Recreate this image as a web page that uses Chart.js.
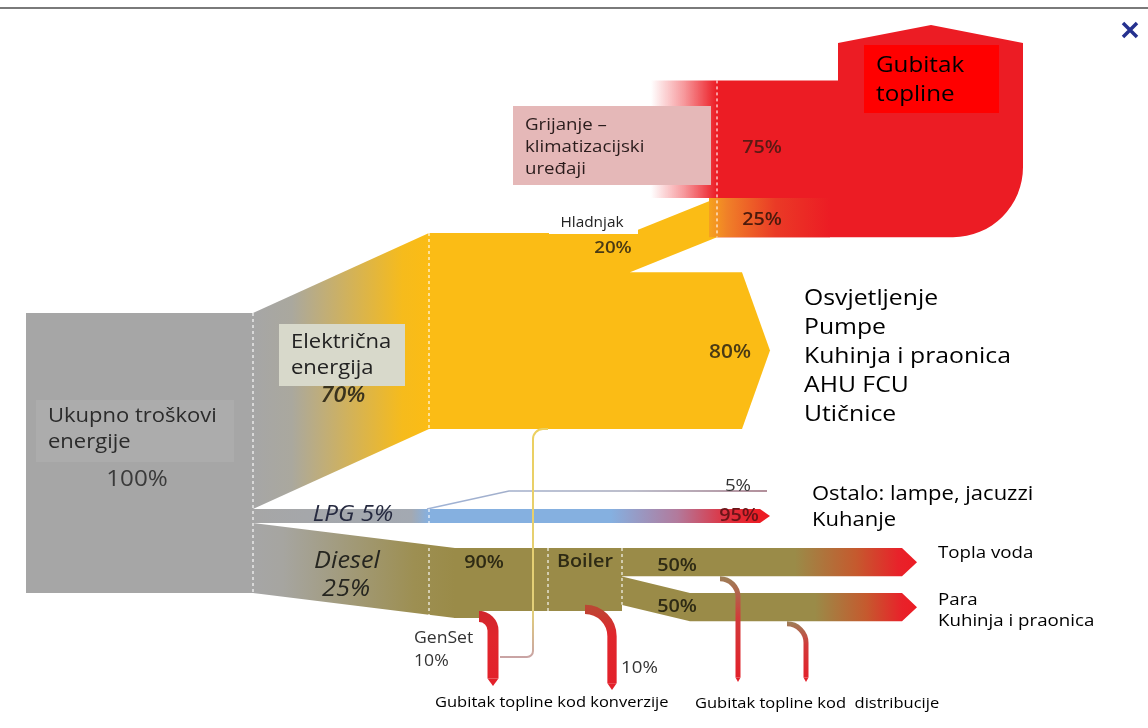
<!DOCTYPE html>
<html>
<head>
<meta charset="utf-8">
<title>Tok energije</title>
<script src="https://cdn.jsdelivr.net/npm/chart.js@4.4.1/dist/chart.umd.min.js"></script>
<style>
  html, body { margin: 0; padding: 0; background: #fff; }
  canvas { display: block; }
</style>
</head>
<body>
<canvas id="energyFlow" width="1148" height="728"></canvas>
<script>
// ==========================================
// DATA (shares in %)
// ==========================================
const totalShare = 100;
const totalLabel = ['Ukupno troškovi', 'energije'];
const sourceLabels = ['Električna', 'energija', 'LPG', 'Diesel'];
const sourceShares = [70, 5, 25];          // struja, LPG, diesel
const electricShares = [20, 80];           // Hladnjak, ostali potrošači
const electricUses = ['Osvjetljenje', 'Pumpe', 'Kuhinja i praonica', 'AHU FCU', 'Utičnice'];
const heatLossShares = [75, 25];           // grijanje/klima, hladnjak
const heatLabels = ['Grijanje –', 'klimatizacijski', 'uređaji'];
const lpgShares = [5, 95];
const lpgUses = ['Ostalo: lampe, jacuzzi', 'Kuhanje'];
const dieselShares = [10, 90];             // GenSet gubitak, prema boileru
const boilerLossShare = 10;
const boilerShares = [50, 50];
const boilerUses = ['Topla voda', 'Para', 'Kuhinja i praonica'];
const lossLabels = ['Gubitak', 'topline', 'Gubitak topline kod konverzije', 'Gubitak topline kod  distribucije'];

// ==========================================
// LAYOUT (scale units, 1 unit = 1 px)
// ==========================================
const PX_PER_PCT = 2.8;
const colX = { left: 26, split: 253, node: 429, dieselNode: 455, hlad: 630, heat: 717,
               elecEnd: 742, genset: 548, boiler: 622, paraBend: 690, arrowEnd: 902 };
const rowY = { total: 313, elec: 233, diesel: 548 };

const COLORS = {
  gray: '#a6a6a6', yellow: '#fbbc15', olive: '#9a8b48', blue: '#85b0e0', red: '#ec1c24'
};
const FONT = "'Open Sans', 'DejaVu Sans', sans-serif";
const TEXT_STRETCH = 1.1;

const flowPlugin = {
  id: 'flowPlugin',
  afterDraw(chart) {
    const ctx = chart.ctx;
    const X = v => chart.scales.x.getPixelForValue(v);
    const Y = v => chart.scales.y.getPixelForValue(v);
    const k = PX_PER_PCT;

    const poly = (pts, fill) => {
      ctx.beginPath();
      pts.forEach((p, i) => i ? ctx.lineTo(X(p[0]), Y(p[1])) : ctx.moveTo(X(p[0]), Y(p[1])));
      ctx.closePath();
      ctx.fillStyle = fill;
      ctx.fill();
    };
    const hGrad = (x0, x1, stops) => {
      const g = ctx.createLinearGradient(X(x0), 0, X(x1), 0);
      stops.forEach(s => g.addColorStop(s[0], s[1]));
      return g;
    };
    const vGrad = (y0, y1, stops) => {
      const g = ctx.createLinearGradient(0, Y(y0), 0, Y(y1));
      stops.forEach(s => g.addColorStop(s[0], s[1]));
      return g;
    };
    const txt = (s, x, y, font, color, align) => {
      ctx.save();
      ctx.translate(X(x), Y(y));
      ctx.scale(TEXT_STRETCH, 1);
      ctx.font = font;
      ctx.fillStyle = color;
      ctx.textAlign = align || 'left';
      ctx.textBaseline = 'middle';
      ctx.fillText(s, 0, 0);
      ctx.restore();
    };
    const box = (x0, y0, x1, y1, fill) => poly([[x0, y0], [x1, y0], [x1, y1], [x0, y1]], fill);
    const pipe = (x0, yTop, r, yEnd, w, stroke) => {
      ctx.save();
      ctx.beginPath();
      ctx.moveTo(X(x0), Y(yTop + w / 2));
      ctx.arcTo(X(x0 + r), Y(yTop + w / 2), X(x0 + r), Y(yEnd), r);
      ctx.lineTo(X(x0 + r), Y(yEnd - w / 2));
      ctx.lineWidth = w;
      ctx.strokeStyle = stroke;
      ctx.stroke();
      poly([[x0 + r - w / 2, yEnd - w / 2], [x0 + r + w / 2, yEnd - w / 2], [x0 + r, yEnd + 2]], stroke);
      ctx.restore();
    };

    // band heights
    const totalH = totalShare * k;
    const elecH = sourceShares[0] * k;
    const lpgH = sourceShares[1] * k;
    const dieselH = sourceShares[2] * k;
    const hladH = elecH * electricShares[0] / 100;
    const restH = elecH * electricShares[1] / 100;
    const heatH = hladH * heatLossShares[0] / heatLossShares[1];
    const dieselAfterGen = dieselH * dieselShares[1] / 100;
    const boilerOut = dieselAfterGen * (100 - boilerLossShare) / 100;
    const topH = boilerOut * boilerShares[0] / 100;
    const paraH = boilerOut * boilerShares[1] / 100;

    const tTop = rowY.total;
    const elecTop0 = tTop, lpgTop = tTop + elecH, dieselTop0 = lpgTop + lpgH;
    const elecTop = rowY.elec, elecBot = elecTop + elecH;
    const hladRise = 35;
    const hladTopEnd = elecTop - hladRise, hladBotEnd = hladTopEnd + hladH;
    const heatTop = hladTopEnd - heatH;
    const dTop = rowY.diesel;

    // ---- total block
    box(colX.left, tTop, colX.split, tTop + totalH, COLORS.gray);

    // ---- electricity
    poly([[colX.split, elecTop0], [colX.node, elecTop], [colX.node, elecBot], [colX.split, elecTop0 + elecH]],
      hGrad(colX.split, colX.node, [[0, COLORS.gray], [0.22, '#aaa89e'], [0.85, '#f6bb1c'], [1, COLORS.yellow]]));
    box(colX.node, elecTop, colX.hlad, elecBot, COLORS.yellow);
    poly([[colX.hlad, elecTop], [colX.heat, hladTopEnd], [colX.heat, hladBotEnd], [colX.hlad, elecTop + hladH]], COLORS.yellow);
    const restTop = elecTop + hladH;
    poly([[colX.hlad, restTop], [colX.elecEnd, restTop], [colX.elecEnd + 28, restTop + restH / 2],
          [colX.elecEnd, restTop + restH], [colX.hlad, restTop + restH]], COLORS.yellow);

    // ---- heat loss block
    box(colX.heat - 66, heatTop, colX.heat, hladTopEnd,
      hGrad(colX.heat - 66, colX.heat, [[0, 'rgba(236,28,36,0)'], [0.5, 'rgba(236,28,36,0.45)'], [1, COLORS.red]]));
    ctx.beginPath();
    ctx.moveTo(X(colX.heat), Y(heatTop));
    ctx.lineTo(X(838), Y(heatTop));
    ctx.lineTo(X(838), Y(43));
    ctx.lineTo(X(931), Y(25));
    ctx.lineTo(X(1023), Y(43));
    ctx.arcTo(X(1023), Y(hladBotEnd), X(950), Y(hladBotEnd), 70);
    ctx.lineTo(X(colX.heat), Y(hladBotEnd));
    ctx.closePath();
    ctx.fillStyle = COLORS.red;
    ctx.fill();
    box(colX.heat - 8, hladTopEnd, 830, hladBotEnd,
      hGrad(colX.heat - 8, 830, [[0, '#f6a21e'], [0.15, '#f08028'], [0.55, '#ea3a26'], [1, COLORS.red]]));

    // ---- LPG
    box(colX.split, lpgTop, colX.node, lpgTop + lpgH,
      hGrad(colX.split, colX.node, [[0, COLORS.gray], [0.9, '#a3a9b2'], [1, COLORS.blue]]));
    poly([[colX.node, lpgTop], [760, lpgTop], [770, lpgTop + lpgH / 2], [760, lpgTop + lpgH], [colX.node, lpgTop + lpgH]],
      hGrad(colX.node, 760, [[0, COLORS.blue], [0.55, COLORS.blue], [0.75, '#b27a9c'], [0.9, '#e0303e'], [1, COLORS.red]]));
    ctx.beginPath();
    ctx.moveTo(X(colX.node - 2), Y(lpgTop));
    ctx.lineTo(X(509), Y(lpgTop - 18));
    ctx.lineTo(X(767), Y(lpgTop - 18));
    ctx.lineWidth = Math.max(1.5, lpgH * lpgShares[0] / 100);
    ctx.strokeStyle = hGrad(colX.node, 767, [[0, '#9fb3d6'], [0.6, '#a7a9bb'], [1, '#9a6b7a']]);
    ctx.stroke();

    // ---- diesel
    poly([[colX.split, dieselTop0], [colX.dieselNode, dTop], [colX.dieselNode, dTop + dieselH], [colX.split, dieselTop0 + dieselH]],
      hGrad(colX.split, colX.dieselNode, [[0, COLORS.gray], [0.15, '#a6a5a0'], [0.8, '#9d8f52'], [1, COLORS.olive]]));
    box(colX.dieselNode - 1, dTop, 482, dTop + dieselH, COLORS.olive);
    box(colX.dieselNode, dTop, colX.boiler, dTop + dieselAfterGen, COLORS.olive);
    // boiler outputs
    const paraTop0 = dTop + topH;
    const paraTop1 = 593;
    poly([[colX.boiler - 1, dTop], [colX.arrowEnd, dTop], [colX.arrowEnd + 15, dTop + topH / 2], [colX.arrowEnd, dTop + topH], [colX.boiler - 1, dTop + topH]],
      hGrad(795, colX.arrowEnd + 15, [[0, COLORS.olive], [0.5, '#c55a2e'], [0.85, '#e8222a'], [1, COLORS.red]]));
    poly([[colX.boiler - 1, paraTop0], [colX.paraBend, paraTop1], [colX.arrowEnd, paraTop1], [colX.arrowEnd + 15, paraTop1 + paraH / 2],
          [colX.arrowEnd, paraTop1 + paraH], [colX.paraBend, paraTop1 + paraH], [colX.boiler - 1, paraTop0 + paraH]],
      hGrad(815, colX.arrowEnd + 15, [[0, COLORS.olive], [0.5, '#c55a2e'], [0.85, '#e8222a'], [1, COLORS.red]]));

    // ---- loss pipes
    const pipeRed = (y0, y1, top) => vGrad(y0, y1, [[0, top], [0.35, '#e0262c'], [1, '#e3202a']]);
    const gW = dieselH * dieselShares[0] / 100 + 4;
    const bW = dieselAfterGen * boilerLossShare / 100 + 3;
    pipe(479, dTop + dieselAfterGen, 14, 684, gW, pipeRed(dTop + dieselAfterGen, 684, '#d0262c'));
    pipe(585, dTop + boilerOut, 27, 688, bW, pipeRed(dTop + boilerOut, 688, '#b84a34'));
    pipe(720, dTop + topH, 18, 680, 5, vGrad(dTop + topH, 680, [[0, '#9c8058'], [0.4, '#d23a3a'], [1, '#e3202a']]));
    pipe(787, paraTop1 + paraH, 19, 680, 5, vGrad(paraTop1 + paraH, 680, [[0, '#9c8058'], [0.4, '#d23a3a'], [1, '#e3202a']]));

    // GenSet -> electricity connector
    ctx.beginPath();
    ctx.moveTo(X(500), Y(657));
    ctx.arcTo(X(533), Y(657), X(533), Y(elecBot), 6);
    ctx.arcTo(X(533), Y(elecBot), X(548), Y(elecBot), 10);
    ctx.lineTo(X(548), Y(elecBot));
    ctx.lineWidth = 2;
    ctx.strokeStyle = vGrad(elecBot, 657, [[0, '#ecd060'], [0.8, '#e2cf7a'], [1, '#c9a4a4']]);
    ctx.stroke();

    // ---- dotted node lines
    ctx.save();
    ctx.setLineDash([3, 3]);
    ctx.lineWidth = 1.5;
    ctx.strokeStyle = 'rgba(255,255,255,0.75)';
    [[colX.split, tTop, tTop + totalH], [colX.node, elecTop, elecBot], [colX.node, lpgTop, lpgTop + lpgH],
     [colX.node, dTop, dTop + dieselH - 3], [colX.genset, dTop, dTop + dieselAfterGen], [colX.boiler, dTop, dTop + boilerOut],
     [colX.heat, heatTop, hladBotEnd]].forEach(l => {
      ctx.beginPath();
      ctx.moveTo(X(l[0]), Y(l[1]));
      ctx.lineTo(X(l[0]), Y(l[2]));
      ctx.stroke();
    });
    ctx.restore();

    // ---- top rule and close mark
    ctx.beginPath();
    ctx.moveTo(X(0), Y(8));
    ctx.lineTo(X(1148), Y(8));
    ctx.lineWidth = 2;
    ctx.strokeStyle = '#7a7a7a';
    ctx.stroke();
    ctx.save();
    ctx.beginPath();
    ctx.moveTo(X(1123), Y(23));
    ctx.lineTo(X(1137), Y(37));
    ctx.moveTo(X(1137), Y(23));
    ctx.lineTo(X(1123), Y(37));
    ctx.lineWidth = 3.5;
    ctx.strokeStyle = '#25318f';
    ctx.stroke();
    ctx.restore();

    // ---- label boxes
    box(36, 400, 234, 462, '#acacac');
    txt(totalLabel[0], 48, 416, `20px ${FONT}`, '#2b2b2b');
    txt(totalLabel[1], 48, 442, `20px ${FONT}`, '#2b2b2b');
    txt(totalShare + '%', 137, 480, `22px ${FONT}`, '#3a3a3a', 'center');

    box(279, 324, 405, 386, '#d8d9cb');
    txt(sourceLabels[0], 291, 342, `20px ${FONT}`, '#222');
    txt(sourceLabels[1], 291, 368, `20px ${FONT}`, '#222');
    txt(sourceShares[0] + '%', 343, 396, `italic 600 21px ${FONT}`, '#3a331e', 'center');

    txt(sourceLabels[2] + ' ' + sourceShares[1] + '%', 353, 515, `italic 22px ${FONT}`, '#262a40', 'center');
    txt(sourceLabels[3], 347, 561, `italic 23px ${FONT}`, '#262620', 'center');
    txt(sourceShares[2] + '%', 346, 589, `italic 23px ${FONT}`, '#262620', 'center');

    box(549, 213, 638, 234, '#ffffff');
    txt('Hladnjak', 592, 223, `14px ${FONT}`, '#222', 'center');
    txt(electricShares[0] + '%', 613, 248, `600 17px ${FONT}`, '#4a3a14', 'center');
    txt(electricShares[1] + '%', 730, 353, `600 19px ${FONT}`, '#4a3a14', 'center');

    box(513, 106, 711, 185, '#e5b8b8');
    heatLabels.forEach((s, i) => txt(s, 525, 125 + i * 22, `17px ${FONT}`, '#2a1c1c'));
    txt(heatLossShares[0] + '%', 762, 148, `600 18px ${FONT}`, '#5a1a14', 'center');
    txt(heatLossShares[1] + '%', 762, 220, `600 18px ${FONT}`, '#4a1a0c', 'center');

    box(864, 45, 999, 113, '#ff0000');
    txt(lossLabels[0], 876, 66, `22px ${FONT}`, '#000');
    txt(lossLabels[1], 876, 95, `22px ${FONT}`, '#000');

    electricUses.forEach((s, i) => txt(s, 804, 299 + i * 29, `22.5px ${FONT}`, '#000'));

    txt(lpgShares[0] + '%', 738, 486, `17px ${FONT}`, '#333', 'center');
    txt(lpgShares[1] + '%', 739, 516, `600 18px ${FONT}`, '#6a1418', 'center');
    txt(lpgUses[0], 812, 494, `20px ${FONT}`, '#000');
    txt(lpgUses[1], 812, 520, `20px ${FONT}`, '#000');

    txt(dieselShares[1] + '%', 484, 563, `600 18px ${FONT}`, '#2e2a14', 'center');
    txt('Boiler', 585, 562, `600 18px ${FONT}`, '#2e2a14', 'center');
    txt(boilerShares[0] + '%', 677, 566, `600 18px ${FONT}`, '#2e2a14', 'center');
    txt(boilerShares[1] + '%', 677, 607, `600 18px ${FONT}`, '#2e2a14', 'center');
    txt(boilerUses[0], 938, 553, `17px ${FONT}`, '#000');
    txt(boilerUses[1], 938, 600, `17px ${FONT}`, '#000');
    txt(boilerUses[2], 938, 621, `17px ${FONT}`, '#000');

    txt('GenSet', 414, 638, `16px ${FONT}`, '#333');
    txt(dieselShares[0] + '%', 414, 661, `16px ${FONT}`, '#333');
    txt(boilerLossShare + '%', 621, 668, `17px ${FONT}`, '#333');
    txt(lossLabels[2], 435, 703, `15px ${FONT}`, '#000');
    txt(lossLabels[3], 695, 704, `15px ${FONT}`, '#000');
  }
};

new Chart(document.getElementById('energyFlow'), {
  type: 'scatter',
  data: { datasets: [] },
  options: {
    responsive: false,
    animation: false,
    layout: { padding: 0 },
    plugins: { legend: { display: false }, tooltip: { enabled: false } },
    scales: {
      x: { type: 'linear', min: 0, max: 1148, display: false },
      y: { type: 'linear', min: 0, max: 728, reverse: true, display: false }
    }
  },
  plugins: [flowPlugin]
});
</script>
</body>
</html>
